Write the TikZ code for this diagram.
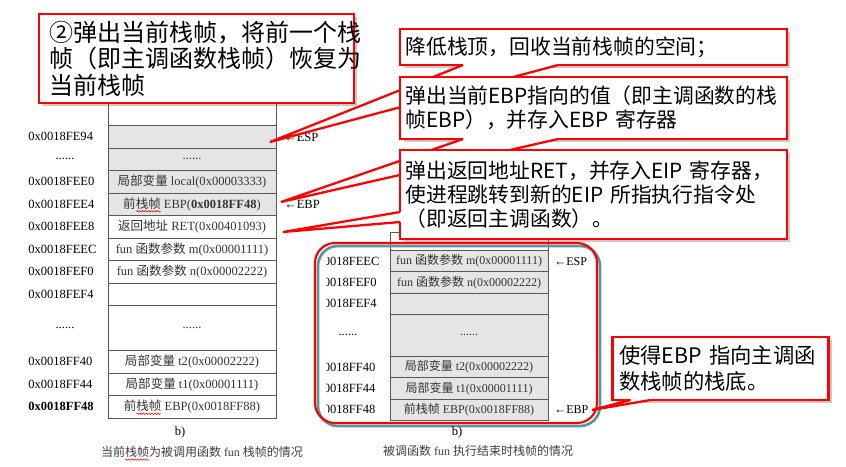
\documentclass[tikz,border=0pt]{standalone}
\usepackage{fontspec}
\setmainfont{Liberation Serif}
\newfontfamily\cjk{Noto Sans CJK SC}
\usetikzlibrary{calc,shadows,decorations.pathmorphing}
\newsavebox\wavebox
\newcommand\redwave[1]{\sbox\wavebox{#1}\rlap{\tikz[overlay]\draw[red, line width=0.4pt, decorate, decoration={snake, amplitude=0.55pt, segment length=2.2pt}] (0pt,-2.3pt) -- (\wd\wavebox,-2.3pt);}\usebox\wavebox}

\begin{document}
\begin{tikzpicture}[x=0.75pt,y=-0.75pt,
  cellw/.style={draw=black!65, fill=white, minimum width=126pt, minimum height=16.875pt, inner sep=0pt, text=black!80, font=\fontsize{9.4}{11}\selectfont},
  cellg/.style={cellw, fill=black!10},
  rcellw/.style={cellw, minimum width=118.5pt, minimum height=15.9pt, font=\fontsize{9}{11}\selectfont},
  rcellg/.style={rcellw, fill=black!10},
  addr/.style={anchor=west, inner sep=0pt, font=\fontsize{9.4}{11}\selectfont},
  redbox/.style={draw=red, line width=1.7pt, fill=white, align=left, inner xsep=4pt, inner ysep=0pt, outer sep=0pt, font=\cjk\fontsize{15.6}{18}\selectfont, drop shadow={shadow xshift=2.5pt, shadow yshift=-2.5pt, opacity=0.35, fill=black!60}},
  wedge/.style={draw=red, line width=1.7pt, line join=miter},
]
\useasboundingbox (0,0) rectangle (846,467);
\fill[white] (0,0) rectangle (846,467);

% stack while fun is running
\node[cellw, minimum height=19.125pt] (lTop) at (192,112.75) {};
\node[cellg] (lFE94) at (192,136.75) {};
\node[cellg] (lDots1) at (192,159.25) {......};
\node[cellg] (lFEE0) at (192,181.75) {{\cjk 局部变量} local(0x00003333)};
\node[cellg] (lFEE4) at (192,204.25) {{\cjk 前\redwave{栈帧}} EBP(\textbf{0x0018FF48})};
\node[cellw] (lFEE8) at (192,226.75) {{\cjk 返回地址} RET(0x00401093)};
\node[cellw] (lFEEC) at (192,249.25) {fun {\cjk 函数参数} m(0x00001111)};
\node[cellw] (lFEF0) at (192,271.75) {fun {\cjk 函数参数} n(0x00002222)};
\node[cellw] (lFEF4) at (192,294.25) {};
\node[cellw, minimum height=33.75pt] (lDots2) at (192,328) {......};
\node[cellw] (lFF40) at (192,361.75) {{\cjk 局部变量} t2(0x00002222)};
\node[cellw] (lFF44) at (192,384.25) {{\cjk 局部变量} t1(0x00001111)};
\node[cellw] (lFF48) at (192,406.75) {{\cjk 前\redwave{栈帧}} EBP(0x0018FF88)};

\node[addr] (aFE94) at (28,136.75) {0x0018FE94};
\node[addr, anchor=center] (aDots1) at (65,159.25) {......};
\node[addr] (aFEE0) at (28,181.75) {0x0018FEE0};
\node[addr] (aFEE4) at (28,204.25) {0x0018FEE4};
\node[addr] (aFEE8) at (28,226.75) {0x0018FEE8};
\node[addr] (aFEEC) at (28,249.25) {0x0018FEEC};
\node[addr] (aFEF0) at (28,271.75) {0x0018FEF0};
\node[addr] (aFEF4) at (28,294.25) {0x0018FEF4};
\node[addr, anchor=center] (aDots2) at (65,328) {......};
\node[addr] (aFF40) at (28,361.75) {0x0018FF40};
\node[addr] (aFF44) at (28,384.25) {0x0018FF44};
\node[addr] (aFF48) at (28,406.75) {\textbf{0x0018FF48}};

\node[addr] (espL) at (284,137) {←ESP};
\node[addr] (ebpL) at (284,204.25) {←EBP};

% stack after fun returns
\node[rcellw, minimum height=13.9pt] (rTop) at (469,241.2) {};
\node[rcellg] (rFEEC) at (469,261.1) {fun {\cjk 函数参数} m(0x00001111)};
\node[rcellg] (rFEF0) at (469,282.3) {fun {\cjk 函数参数} n(0x00002222)};
\node[rcellg] (rFEF4) at (469,303.5) {};
\node[rcellg, minimum height=31.8pt] (rDots) at (469,335.3) {......};
\node[rcellg] (rFF40) at (469,367.1) {{\cjk 局部变量} t2(0x00002222)};
\node[rcellg] (rFF44) at (469,388.3) {{\cjk 局部变量} t1(0x00001111)};
\node[rcellg] (rFF48) at (469,409.5) {{\cjk 前栈帧} EBP(0x0018FF88)};

\begin{scope}
\clip[rounded corners=15pt] (326,243) rectangle (597,423);
\node[addr] (bFEEC) at (311,261.1) {0x0018FEEC};
\node[addr] (bFEF0) at (311,282.3) {0x0018FEF0};
\node[addr] (bFEF4) at (311,303.5) {0x0018FEF4};
\node[addr, anchor=center] (bDots) at (348,335.3) {......};
\node[addr] (bFF40) at (311,367.1) {0x0018FF40};
\node[addr] (bFF44) at (311,388.3) {0x0018FF44};
\node[addr] (bFF48) at (311,409.5) {0x0018FF48};
\end{scope}

\node[addr, font=\fontsize{9}{11}\selectfont] (espR) at (554,261.1) {←ESP};
\node[addr, font=\fontsize{9}{11}\selectfont] (ebpR) at (554,409.5) {←EBP};

\draw[line width=2pt, draw={rgb,255:red,90;green,150;blue,155}, rounded corners=15pt] (318,246) rectangle (600,426);
\draw[line width=1.6pt, red, rounded corners=15pt] (315,243) rectangle (597,423);

\node[font=\fontsize{9.4}{11}\selectfont] (capLb) at (180,432) {b)};
\node[font=\fontsize{9}{11}\selectfont, text=black!75] (capL) at (202,452) {{\cjk 当前\redwave{栈帧}为被调用函数} fun {\cjk 栈帧的情况}};
\node[font=\fontsize{9.4}{11}\selectfont] (capRb) at (457,432) {b)};
\node[font=\fontsize{9}{11}\selectfont, text=black!75] (capR) at (478,451) {{\cjk 被调函数} fun {\cjk 执行结束时栈帧的情况}};

% callouts
\coordinate (tipEsp) at (270,142);
\coordinate (tipEbp) at (281,202);
\coordinate (tipRet) at (283,232);
\coordinate (tipNewEbp) at (592,410);

\node[redbox, font=\cjk\fontsize{18}{20}\selectfont, text width=221pt, minimum height=66.75pt, inner xsep=7.5pt] (popFrame) at (196.5,58.5) {②弹出当前栈帧，将前一个栈\\帧（即主调函数栈帧）恢复为\\当前栈帧};

\node[redbox, text width=282pt, minimum height=27pt] (dropTop) at (593.5,47) {降低栈顶，回收当前栈帧的空间；};
\fill[white] ($(dropTop.south west)+(63,-3)$) -- ($(dropTop.south west)+(63,0)$) -- (tipEsp) -- ($(dropTop.south west)+(158,0)$) -- ($(dropTop.south west)+(158,-3)$) -- cycle;
\draw[wedge] ($(dropTop.south west)+(63,0)$) -- (tipEsp) -- ($(dropTop.south west)+(158,0)$);

\node[redbox, text width=282pt, minimum height=46.5pt] (popEbp) at (593.5,108) {弹出当前EBP指向的值（即主调函数的栈\\帧EBP），并存入EBP~寄存器};
\fill[white] ($(popEbp.south west)+(63,-3)$) -- ($(popEbp.south west)+(63,0)$) -- (tipEbp) -- ($(popEbp.south west)+(158,0)$) -- ($(popEbp.south west)+(158,-3)$) -- cycle;
\draw[wedge] ($(popEbp.south west)+(63,0)$) -- (tipEbp) -- ($(popEbp.south west)+(158,0)$);

\node[redbox, text width=282pt, minimum height=66.75pt] (popRet) at (593.5,194.5) {弹出返回地址RET，并存入EIP~寄存器，\\使进程跳转到新的EIP~所指执行指令处\\（即返回主调函数）。};
\fill[white] ($(popRet.north west)+(3,62)$) -- ($(popRet.north west)+(0,62)$) -- (tipRet) -- ($(popRet.north west)+(0,72)$) -- ($(popRet.north west)+(3,72)$) -- cycle;
\draw[wedge] ($(popRet.north west)+(0,62)$) -- (tipRet) -- ($(popRet.north west)+(0,72)$);

\node[redbox, font=\cjk\fontsize{16}{19.5}\selectfont, text width=152pt, minimum height=47.25pt, inner xsep=5pt] (newEbp) at (720.5,368.5) {使得EBP~指向主调函\\数栈帧的栈底。};
\fill[white] ($(newEbp.south west)+(18,-3)$) -- ($(newEbp.south west)+(18,0)$) -- (tipNewEbp) -- ($(newEbp.south west)+(38,0)$) -- ($(newEbp.south west)+(38,-3)$) -- cycle;
\draw[wedge] ($(newEbp.south west)+(18,0)$) -- (tipNewEbp) -- ($(newEbp.south west)+(38,0)$);

\end{tikzpicture}
\end{document}
